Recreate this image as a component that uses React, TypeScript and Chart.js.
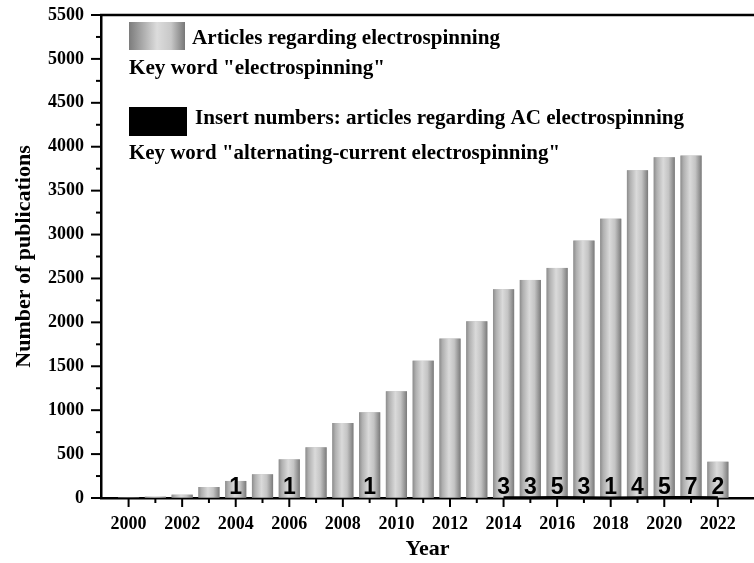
import { useEffect, useRef } from "react";
import { Chart, registerables } from "chart.js";

Chart.register(...registerables);

const years = [2000, 2001, 2002, 2003, 2004, 2005, 2006, 2007, 2008, 2009, 2010, 2011, 2012, 2013, 2014, 2015, 2016, 2017, 2018, 2019, 2020, 2021, 2022];
const articles = [3, 15, 38, 125, 194, 270, 440, 577, 854, 976, 1215, 1564, 1815, 2012, 2377, 2483, 2620, 2931, 3181, 3732, 3880, 3899, 413];
const acCounts = [0, 0, 0, 0, 1, 0, 1, 0, 0, 1, 0, 0, 0, 0, 3, 3, 5, 3, 1, 4, 5, 7, 2];
const yMin = 0;
const yMax = 5500;
const yStep = 500;

const legendLines = [
  'Articles regarding electrospinning',
  'Key word "electrospinning"',
  'Insert numbers: articles regarding AC electrospinning',
  'Key word "alternating-current electrospinning"',
];

const SERIF = "'Times New Roman', 'Liberation Serif', serif";

function fitText(ctx: CanvasRenderingContext2D, text: string, x: number, y: number, width: number, size: number) {
  ctx.save();
  ctx.font = `bold ${size}px ${SERIF}`;
  ctx.textBaseline = "middle";
  ctx.textAlign = "left";
  ctx.fillStyle = "#000";
  const m = ctx.measureText(text).width;
  const s = width / m;
  ctx.translate(x, y);
  ctx.scale(s, 1);
  ctx.fillText(text, 0, 0);
  ctx.restore();
}

const decorPlugin = {
  id: "decor",
  afterDatasetDraw(chart: any, args: any) {
    if (args.index !== 0) return;
    const ctx = chart.ctx as CanvasRenderingContext2D;
    const meta = chart.getDatasetMeta(0);
    ctx.save();
    meta.data.forEach((el: any) => {
      const w = el.width;
      const l = el.x - w / 2;
      const g = ctx.createLinearGradient(l, 0, l + w, 0);
      g.addColorStop(0, "#8c8c8c");
      g.addColorStop(0.15, "#b0b0b0");
      g.addColorStop(0.45, "#dadada");
      g.addColorStop(0.7, "#c4c4c4");
      g.addColorStop(0.92, "#8e8e8e");
      g.addColorStop(1, "#7a7a7a");
      ctx.fillStyle = g;
      const top = Math.min(el.y, el.base);
      const h = Math.abs(el.base - el.y);
      ctx.fillRect(l, top, w, h);
    });
    ctx.restore();
  },
  afterDatasetsDraw(chart: any) {
    const ctx = chart.ctx as CanvasRenderingContext2D;
    const xs = chart.scales.x;
    const ys = chart.scales.y;
    ctx.save();
    ctx.font = "bold 23px 'Liberation Sans', Arial, sans-serif";
    ctx.fillStyle = "#000";
    ctx.textAlign = "center";
    ctx.textBaseline = "alphabetic";
    const base = ys.getPixelForValue(0);
    years.forEach((yr, i) => {
      if (acCounts[i] > 0) {
        ctx.fillText(String(acCounts[i]), xs.getPixelForValue(yr), base - 4);
      }
    });
    ctx.restore();
  },
  afterDraw(chart: any) {
    const ctx = chart.ctx as CanvasRenderingContext2D;
    const { left, right, top, bottom } = chart.chartArea;
    const xs = chart.scales.x;
    const ys = chart.scales.y;
    ctx.save();
    ctx.strokeStyle = "#000";
    ctx.lineWidth = 2.5;
    ctx.beginPath();
    ctx.moveTo(left - 1, top);
    ctx.lineTo(right, top);
    ctx.stroke();
    ctx.lineWidth = 2;
    for (let v = yMin; v <= yMax; v += yStep / 2) {
      const y = ys.getPixelForValue(v);
      const len = v % yStep === 0 ? 10 : 5;
      ctx.beginPath();
      ctx.moveTo(left - len, y);
      ctx.lineTo(left, y);
      ctx.stroke();
    }
    years.forEach((yr) => {
      const x = xs.getPixelForValue(yr);
      const len = yr % 2 === 0 ? 9 : 5;
      ctx.beginPath();
      ctx.moveTo(x, bottom);
      ctx.lineTo(x, bottom + len);
      ctx.stroke();
    });
    // legend
    const g = ctx.createLinearGradient(129, 0, 185, 0);
    g.addColorStop(0, "#7c7c7c");
    g.addColorStop(0.5, "#dcdcdc");
    g.addColorStop(0.75, "#c8c8c8");
    g.addColorStop(1, "#777777");
    ctx.fillStyle = g;
    ctx.fillRect(129, 22, 56, 28);
    ctx.fillStyle = "#000";
    ctx.fillRect(129, 107, 58, 29);
    ctx.restore();
    fitText(ctx, legendLines[0], 192, 39, 308, 20);
    fitText(ctx, legendLines[1], 129, 69, 256, 20);
    fitText(ctx, legendLines[2], 195, 119, 489, 20);
    fitText(ctx, legendLines[3], 129, 154, 431, 20);
  },
};

export default function App() {
  const ref = useRef<HTMLCanvasElement | null>(null);
  useEffect(() => {
    if (!ref.current) return;
    const chart = new Chart(ref.current, {
      type: "bar",
      data: {
        datasets: [
          {
            type: "bar",
            label: "Articles regarding electrospinning",
            data: years.map((x, i) => ({ x, y: articles[i] })),
            backgroundColor: "#bdbdbd",
            borderWidth: 0,
            barPercentage: 0.79,
            categoryPercentage: 1,
            order: 1,
          } as any,
          {
            type: "line",
            label: "AC electrospinning",
            data: years.map((x, i) => ({ x, y: acCounts[i] > 0 ? acCounts[i] : null })),
            borderColor: "#000",
            borderWidth: 3,
            pointRadius: 0,
            spanGaps: false,
            clip: false,
            order: 0,
          } as any,
        ],
      },
      options: {
        animation: false,
        responsive: false,
        devicePixelRatio: 1,
        layout: { padding: { left: 11, top: 15, right: 0, bottom: 0 } },
        plugins: { legend: { display: false }, tooltip: { enabled: false } },
        scales: {
          x: {
            type: "linear",
            min: 1999.5,
            max: 2022.82,
            afterFit: (s: any) => { s.height = 65; s.paddingLeft = 0; s.paddingRight = 0; },
            afterBuildTicks: (s: any) => { s.ticks = years.map((v) => ({ value: v })); },
            ticks: {
              autoSkip: false,
              maxRotation: 0,
              padding: 7,
              color: "#000",
              font: { family: SERIF, weight: "bold", size: 18 },
              callback: (v: any) => (Number(v) % 2 === 0 ? String(v) : ""),
            },
            grid: { display: true, drawOnChartArea: false, drawTicks: true, tickLength: 9, tickColor: "rgba(0,0,0,0)" },
            border: { display: true, color: "#000", width: 2.5 },
            title: { display: true, text: "Year", color: "#000", font: { family: SERIF, weight: "bold", size: 22 }, padding: 0 },
          },
          y: {
            min: yMin,
            max: yMax,
            afterFit: (s: any) => { s.width = 90; s.paddingTop = 0; s.paddingBottom = 0; },
            ticks: {
              stepSize: yStep,
              padding: 7,
              color: "#000",
              font: { family: SERIF, weight: "bold", size: 18 },
              callback: (v: any) => String(v),
            },
            grid: { display: true, drawOnChartArea: false, drawTicks: true, tickLength: 10, tickColor: "rgba(0,0,0,0)" },
            border: { display: true, color: "#000", width: 2.5 },
            title: { display: true, text: "Number of publications", color: "#000", font: { family: SERIF, weight: "bold", size: 22 }, padding: 0 },
          },
        },
      },
      plugins: [decorPlugin],
    });
    return () => chart.destroy();
  }, []);
  return (
    <div style={{ position: "absolute", left: 0, top: 0, width: 754, height: 563, background: "#fff" }}>
      <canvas ref={ref} width={754} height={563} />
    </div>
  );
}
